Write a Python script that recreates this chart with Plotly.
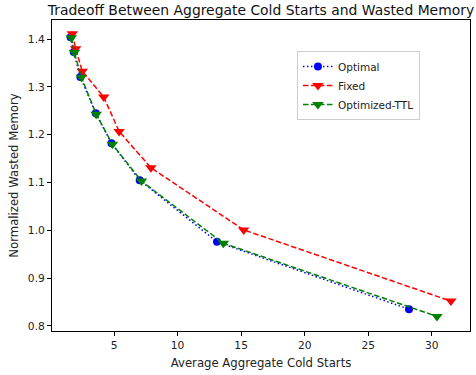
import plotly.graph_objects as go

opt_x = [1.58, 1.83, 2.35, 3.56, 4.80, 7.02, 13.1, 28.2]
opt_y = [1.404, 1.373, 1.321, 1.245, 1.182, 1.105, 0.976, 0.835]

fix_x = [1.72, 1.98, 2.50, 4.19, 5.40, 7.90, 15.2, 31.5]
fix_y = [1.411, 1.380, 1.333, 1.279, 1.207, 1.131, 1.001, 0.852]

ttl_x = [1.64, 1.88, 2.43, 3.60, 4.87, 7.16, 13.6, 30.4]
ttl_y = [1.403, 1.372, 1.320, 1.243, 1.180, 1.103, 0.973, 0.820]

x_ticks = [5, 10, 15, 20, 25, 30]
y_ticks = [0.8, 0.9, 1.0, 1.1, 1.2, 1.3, 1.4]

FONT = "DejaVu Sans"

fig = go.Figure()
fig.add_trace(go.Scatter(
    x=opt_x, y=opt_y, name="Optimal", mode="lines+markers",
    line=dict(color="blue", width=1.5, dash="1.5px,2.5px"),
    marker=dict(symbol="circle", size=8, color="blue"),
))
fig.add_trace(go.Scatter(
    x=fix_x, y=fix_y, name="Fixed", mode="lines+markers",
    line=dict(color="red", width=1.5, dash="5.5px,2.5px"),
    marker=dict(symbol="triangle-down", size=10, color="red"),
))
fig.add_trace(go.Scatter(
    x=ttl_x, y=ttl_y, name="Optimized-TTL", mode="lines+markers",
    line=dict(color="green", width=1.5, dash="5.5px,2.5px"),
    marker=dict(symbol="triangle-down", size=10, color="green"),
))

axis_common = dict(
    showline=True, linecolor="black", linewidth=1, mirror=True,
    ticks="outside", ticklen=4, tickwidth=1, tickcolor="black",
    showgrid=False, zeroline=False,
    tickfont=dict(family=FONT, size=10.7, color="#222"),
)

fig.update_layout(
    width=476, height=375,
    margin=dict(l=52, r=6, t=20, b=44),
    paper_bgcolor="white", plot_bgcolor="white",
    font=dict(family=FONT, color="#222"),
    title=dict(text="Tradeoff Between Aggregate Cold Starts and Wasted Memory",
               x=(52 + 470) / 2 / 476, xanchor="center", y=0.973, yanchor="middle",
               font=dict(family=FONT, size=13.9, color="#111")),
    xaxis=dict(range=[0.12, 33.0], tickvals=x_ticks,
               title=dict(text="Average Aggregate Cold Starts", standoff=7,
                          font=dict(family=FONT, size=11.7)),
               **axis_common),
    yaxis=dict(range=[0.7895, 1.44], tickvals=y_ticks, tickformat=".1f",
               title=dict(text="Normalized Wasted Memory", standoff=6,
                          font=dict(family=FONT, size=11.7)),
               **axis_common),
    legend=dict(x=0.586, y=0.9, xanchor="left", yanchor="top",
                bgcolor="rgba(255,255,255,0.8)", bordercolor="#ccc", borderwidth=1,
                font=dict(family=FONT, size=10.5), tracegroupgap=0,
                itemwidth=30),
    showlegend=True,
)

fig.write_html(
    "out.html",
    config={"displayModeBar": False},
    post_script="document.body.style.margin='0';document.body.style.overflow='hidden';",
)
